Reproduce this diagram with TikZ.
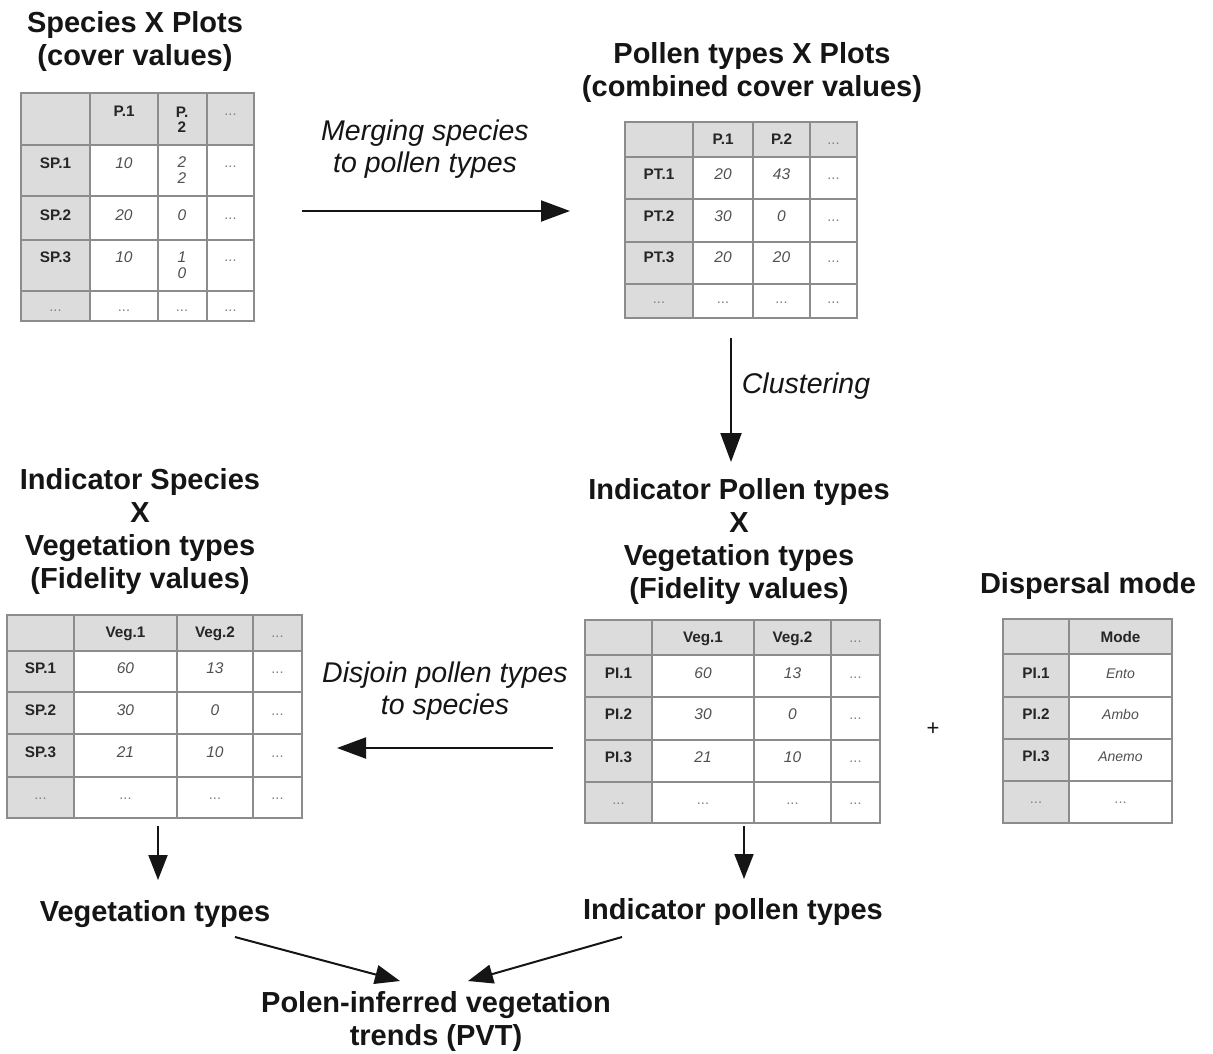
\documentclass[tikz,border=0pt]{standalone}
\usepackage{fontspec}
\setmainfont{Liberation Sans}
\usetikzlibrary{arrows.meta,fit}
\definecolor{hdrgray}{HTML}{DCDCDC}
\definecolor{gridgray}{HTML}{8C8C8C}
\definecolor{valgray}{HTML}{505050}
\definecolor{dotgray}{HTML}{808080}
\definecolor{inkblack}{HTML}{151515}
\tikzset{
  title/.style={font=\fontsize{29}{33}\selectfont\bfseries, align=center, inner sep=0pt, text=inkblack},
  lbl/.style={font=\fontsize{28.5}{32.5}\selectfont\itshape, align=center, inner sep=0pt, text=inkblack},
  ch/.style={font=\fontsize{15.3}{16}\selectfont\bfseries, text=black!85, inner sep=0pt, text height=10.5pt, text depth=0pt},
  cv/.style={font=\fontsize{15.5}{17}\selectfont\itshape, text=valgray, inner sep=0pt, text height=10.5pt, text depth=0pt},
  cmode/.style={font=\fontsize{14}{16}\selectfont\itshape, text=valgray, inner sep=0pt, text height=10.5pt, text depth=0pt},
  cd/.style={font=\fontsize{14.5}{15}\selectfont, text=dotgray, inner sep=0pt, text height=10.5pt, text depth=0pt},
  cwv/.style={font=\fontsize{15.5}{16}\selectfont\itshape, text=valgray, inner sep=0pt, align=center},
  cwh/.style={font=\fontsize{15.3}{15.5}\selectfont\bfseries, text=black!85, inner sep=0pt, align=center},
  gridl/.style={draw=gridgray, line width=1.3pt},
  tblbox/.style={draw=gridgray, line width=1.3pt, inner sep=0pt, outer sep=0pt},
  arr/.style={draw=inkblack, line width=2pt, -{Triangle[length=29pt,width=21pt]}},
  arrs/.style={draw=inkblack, line width=2pt, -{Triangle[length=25pt,width=19pt]}},
}
% #1 left #2 top #3 right #4 bottom #5 verticals #6 horizontals #7 header col x #8 header row y #9 name
\newcommand{\tblframe}[9]{%
  \fill[hdrgray] (#1,#2) rectangle (#3,#8);
  \fill[hdrgray] (#1,#8) rectangle (#7,#4);
  \foreach \xx in {#5} {\draw[gridl] (\xx,#2) -- (\xx,#4);}
  \foreach \yy in {#6} {\draw[gridl] (#1,\yy) -- (#3,\yy);}
  \node[tblbox, fit={(#1,#2) (#3,#4)}] (#9) {};
}
\begin{document}
\begin{tikzpicture}[x=1pt,y=-1pt]
\useasboundingbox (0,0) rectangle (1213,1053);
\fill[white] (0,0) rectangle (1213,1053);

% ---------- Table 1: Species X Plots ----------
\tblframe{21}{93}{254}{321}{90,158,207}{145,196,240,291}{90}{145}{T1}
\node[cwh] (t1h2) at (182,119.5) {P.\\2};
\node[ch] (t1h1) at (124,111) {P.1};
\node[cd] (t1h3) at (230.5,110) {...};
\node[ch] (t1r1) at (55.5,163) {SP.1};
\node[cv] (t1a1) at (124,163) {10};
\node[cwv] (t1b1) at (182,170) {2\\2};
\node[cd] (t1c1) at (230.5,162) {...};
\node[ch] (t1r2) at (55.5,215) {SP.2};
\node[cv] (t1a2) at (124,215) {20};
\node[cv] (t1b2) at (182,215) {0};
\node[cd] (t1c2) at (230.5,214) {...};
\node[ch] (t1r3) at (55.5,257) {SP.3};
\node[cv] (t1a3) at (124,257) {10};
\node[cwv] (t1b3) at (182,265) {1\\0};
\node[cd] (t1c3) at (230.5,256) {...};
\node[cd] (t1r4) at (55.5,306) {...};
\node[cd] (t1a4) at (124,306) {...};
\node[cd] (t1b4) at (182,306) {...};
\node[cd] (t1c4) at (230.5,306) {...};

% ---------- Table 2: Pollen types X Plots ----------
\tblframe{625}{122}{857}{318}{693,753,810}{157,199,242,284}{693}{157}{T2}
\node[ch] (t2h1) at (723,139) {P.1};
\node[ch] (t2h2) at (781.5,139) {P.2};
\node[cd] (t2h3) at (833.5,139) {...};
\node[ch] (t2r1) at (659,174) {PT.1};
\node[cv] (t2a1) at (723,174) {20};
\node[cv] (t2b1) at (781.5,174) {43};
\node[cd] (t2c1) at (833.5,174) {...};
\node[ch] (t2r2) at (659,216) {PT.2};
\node[cv] (t2a2) at (723,216) {30};
\node[cv] (t2b2) at (781.5,216) {0};
\node[cd] (t2c2) at (833.5,216) {...};
\node[ch] (t2r3) at (659,257) {PT.3};
\node[cv] (t2a3) at (723,257) {20};
\node[cv] (t2b3) at (781.5,257) {20};
\node[cd] (t2c3) at (833.5,257) {...};
\node[cd] (t2r4) at (659,298) {...};
\node[cd] (t2a4) at (723,298) {...};
\node[cd] (t2b4) at (781.5,298) {...};
\node[cd] (t2c4) at (833.5,298) {...};

% ---------- Table 3: Indicator Species X Vegetation ----------
\tblframe{7}{615}{302}{818}{74,177,253}{651,692,734,777}{74}{651}{T3}
\node[ch] (t3h1) at (125.5,632) {Veg.1};
\node[ch] (t3h2) at (215,632) {Veg.2};
\node[cd] (t3h3) at (277.5,632) {...};
\node[ch] (t3r1) at (40.5,668) {SP.1};
\node[cv] (t3a1) at (125.5,668) {60};
\node[cv] (t3b1) at (215,668) {13};
\node[cd] (t3c1) at (277.5,668) {...};
\node[ch] (t3r2) at (40.5,710) {SP.2};
\node[cv] (t3a2) at (125.5,710) {30};
\node[cv] (t3b2) at (215,710) {0};
\node[cd] (t3c2) at (277.5,710) {...};
\node[ch] (t3r3) at (40.5,752) {SP.3};
\node[cv] (t3a3) at (125.5,752) {21};
\node[cv] (t3b3) at (215,752) {10};
\node[cd] (t3c3) at (277.5,752) {...};
\node[cd] (t3r4) at (40.5,794) {...};
\node[cd] (t3a4) at (125.5,794) {...};
\node[cd] (t3b4) at (215,794) {...};
\node[cd] (t3c4) at (277.5,794) {...};

% ---------- Table 4: Indicator Pollen types X Vegetation ----------
\tblframe{585}{620}{880}{823}{652,754,831}{655,697,740,782}{652}{655}{T4}
\node[ch] (t4h1) at (703,637) {Veg.1};
\node[ch] (t4h2) at (792.5,637) {Veg.2};
\node[cd] (t4h3) at (855.5,637) {...};
\node[ch] (t4r1) at (618.5,673) {PI.1};
\node[cv] (t4a1) at (703,673) {60};
\node[cv] (t4b1) at (792.5,673) {13};
\node[cd] (t4c1) at (855.5,673) {...};
\node[ch] (t4r2) at (618.5,714) {PI.2};
\node[cv] (t4a2) at (703,714) {30};
\node[cv] (t4b2) at (792.5,714) {0};
\node[cd] (t4c2) at (855.5,714) {...};
\node[ch] (t4r3) at (618.5,757) {PI.3};
\node[cv] (t4a3) at (703,757) {21};
\node[cv] (t4b3) at (792.5,757) {10};
\node[cd] (t4c3) at (855.5,757) {...};
\node[cd] (t4r4) at (618.5,799) {...};
\node[cd] (t4a4) at (703,799) {...};
\node[cd] (t4b4) at (792.5,799) {...};
\node[cd] (t4c4) at (855.5,799) {...};

% ---------- Table 5: Dispersal mode ----------
\tblframe{1003}{619}{1172}{823}{1069}{654,697,739,781}{1069}{654}{T5}
\node[ch] (t5h1) at (1120.5,637) {Mode};
\node[ch] (t5r1) at (1036,673) {PI.1};
\node[cmode] (t5a1) at (1120.5,673) {Ento};
\node[ch] (t5r2) at (1036,714) {PI.2};
\node[cmode] (t5a2) at (1120.5,714) {Ambo};
\node[ch] (t5r3) at (1036,756) {PI.3};
\node[cmode] (t5a3) at (1120.5,756) {Anemo};
\node[cd] (t5r4) at (1036,798) {...};
\node[cd] (t5a4) at (1120.5,798) {...};

% ---------- Titles and labels ----------
\node[title] (h1) at (135,41.5) {Species X Plots\\(cover values)};
\node[title] (h2) at (752,72) {Pollen types X Plots\\(combined cover values)};
\node[title] (h3) at (739,541) {Indicator Pollen types\\X\\Vegetation types\\(Fidelity values)};
\node[title] (h4) at (140,531) {Indicator Species\\X\\Vegetation types\\(Fidelity values)};
\node[title] (h5) at (1088,586) {Dispersal mode};
\node[lbl] (l1) at (425,149) {Merging species\\to pollen types};
\node[lbl] (l2) at (806,386) {Clustering};
\node[lbl] (l3) at (445,691) {Disjoin pollen types\\to species};
\node[font=\fontsize{22}{24}\selectfont, inner sep=0pt, text=inkblack] (plus) at (933,729) {+};
\node[title] (b1) at (155,914) {Vegetation types};
\node[title] (b2) at (733,912) {Indicator pollen types};
\node[title] (b3) at (436,1021) {Polen-inferred vegetation\\trends (PVT)};

% ---------- Connectors ----------
\coordinate (a1s) at (302,211);
\coordinate (a1e) at (570,211);
\draw[arr] (a1s) -- (a1e);
\coordinate (a2s) at (731,338);
\coordinate (a2e) at (731,462);
\draw[arr] (a2s) -- (a2e);
\coordinate (a3s) at (553,748);
\coordinate (a3e) at (337,748);
\draw[arr] (a3s) -- (a3e);
\coordinate (a4s) at (158,826);
\coordinate (a4e) at (158,880);
\draw[arrs] (a4s) -- (a4e);
\coordinate (a5s) at (744,826);
\coordinate (a5e) at (744,879);
\draw[arrs] (a5s) -- (a5e);
\coordinate (a6s) at (235,937);
\coordinate (a6e) at (400,981);
\draw[arrs] (a6s) -- (a6e);
\coordinate (a7s) at (622,937);
\coordinate (a7e) at (468,981);
\draw[arrs] (a7s) -- (a7e);
\end{tikzpicture}
\end{document}
